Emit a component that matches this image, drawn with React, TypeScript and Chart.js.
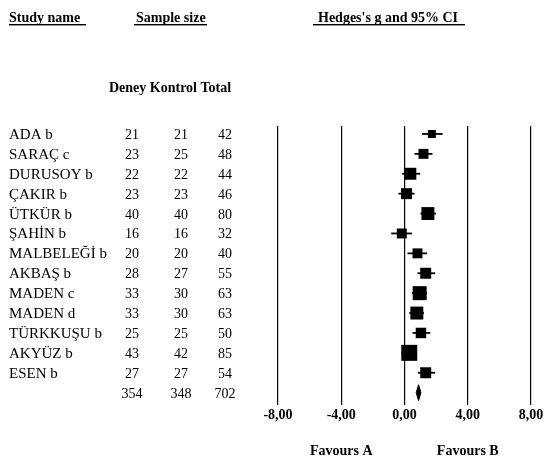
import { useEffect, useRef } from "react";
import { Chart, registerables } from "chart.js";

Chart.register(...registerables);

const studyNames = ["ADA b", "SARAÇ c", "DURUSOY b", "ÇAKIR b", "ÜTKÜR b", "ŞAHİN b", "MALBELEĞİ b", "AKBAŞ b", "MADEN c", "MADEN d", "TÜRKKUŞU b", "AKYÜZ b", "ESEN b"];
const deneyN = [21, 23, 22, 23, 40, 16, 20, 28, 33, 33, 25, 43, 27];
const kontrolN = [21, 25, 22, 23, 40, 16, 20, 27, 30, 30, 25, 42, 27];
const totalN = [42, 48, 44, 46, 80, 32, 40, 55, 63, 63, 50, 85, 54];
const sumTotals = [354, 348, 702];
const hedgesG = [1.73, 1.2, 0.37, 0.13, 1.48, -0.17, 0.82, 1.34, 0.96, 0.78, 1.04, 0.3, 1.34];
const lowerCI = [1.1, 0.63, -0.15, -0.38, 1.01, -0.84, 0.19, 0.82, 0.47, 0.3, 0.51, -0.19, 0.84];
const upperCI = [2.41, 1.77, 0.99, 0.63, 1.99, 0.47, 1.42, 1.94, 1.42, 1.23, 1.63, 0.78, 1.94];
const relWeights = [3.6, 5.6, 8.1, 6.8, 9.5, 5.6, 5.6, 6.8, 11.1, 9.5, 6.2, 14.5, 6.8];
const summaryG = [0.89];
const summaryCI = [0.74, 1.04];
const xTickValues = [-8, -4, 0, 4, 8];
const favourLabels = ["Favours A", "Favours B"];
const favourAt = [-4, 4];

const SERIF = '"Liberation Serif", "Times New Roman", serif';

const textPlugin = {
  id: "forestText",
  afterDraw(chart: any) {
    const { ctx } = chart;
    const ys = chart.scales.y;
    const xs = chart.scales.x;
    ctx.save();
    ctx.fillStyle = "#000";
    ctx.textBaseline = "alphabetic";
    ctx.font = `bold 14px ${SERIF}`;
    ctx.textAlign = "left";
    const header = (t: string, tx: number, u0: number, u1: number) => {
      ctx.fillText(t, tx, 22);
      ctx.fillRect(u0, 24, u1 - u0, 1.4);
    };
    header("Study name", 9, 9, 86);
    header("Sample size", 136, 134, 207);
    header("Hedges's g and 95% CI", 318, 313, 465);
    ctx.fillText("Deney Kontrol Total", 109, 92);

    const colX = [132, 181, 225];
    studyNames.forEach((name, i) => {
      const py = ys.getPixelForValue(i) + 5;
      ctx.font = `15px ${SERIF}`;
      ctx.textAlign = "left";
      ctx.fillText(name, 9, py);
      ctx.font = `14px ${SERIF}`;
      ctx.textAlign = "center";
      ctx.fillText(String(deneyN[i]), colX[0], py);
      ctx.fillText(String(kontrolN[i]), colX[1], py);
      ctx.fillText(String(totalN[i]), colX[2], py);
    });
    const ty = ys.getPixelForValue(studyNames.length) + 5;
    ctx.font = `14px ${SERIF}`;
    sumTotals.forEach((v, k) => {
      ctx.textAlign = "center";
      ctx.fillText(String(v), colX[k], ty);
    });

    ctx.font = `bold 14px ${SERIF}`;
    ctx.textAlign = "center";
    favourLabels.forEach((t, k) => {
      ctx.fillText(t, xs.getPixelForValue(favourAt[k]), 455);
    });
    ctx.restore();
  },
};

export default function App() {
  const ref = useRef<HTMLCanvasElement | null>(null);
  useEffect(() => {
    if (!ref.current) return;
    const n = studyNames.length;
    const ciSets = studyNames.map((_, i) => ({
      type: "scatter" as const,
      data: [
        { x: lowerCI[i], y: i },
        { x: upperCI[i], y: i },
      ],
      showLine: true,
      borderColor: "#000",
      borderWidth: 1.8,
      pointRadius: 0,
      order: 2,
    }));
    const k = 4.2;
    const squares = {
      type: "scatter" as const,
      data: hedgesG.map((g, i) => ({ x: g, y: i })),
      pointStyle: "rect",
      pointRadius: relWeights.map((w) => (Math.sqrt(w) * k) / Math.SQRT2),
      backgroundColor: "#000",
      borderWidth: 0,
      order: 0,
    };
    const diamond = {
      type: "scatter" as const,
      data: [
        { x: summaryCI[0], y: n },
        { x: summaryG[0], y: n - 0.4 },
        { x: summaryCI[1], y: n },
        { x: summaryG[0], y: n + 0.4 },
        { x: summaryCI[0], y: n },
      ],
      showLine: true,
      fill: "shape",
      backgroundColor: "#000",
      borderColor: "#000",
      borderWidth: 1,
      pointRadius: 0,
      order: 1,
    };
    const chart = new Chart(ref.current, {
      type: "scatter",
      data: { datasets: [...ciSets, squares, diamond] as any },
      options: {
        animation: false,
        responsive: true,
        maintainAspectRatio: false,
        events: [],
        layout: { padding: { left: 278, right: 13, top: 126, bottom: 26 } },
        plugins: { legend: { display: false }, tooltip: { enabled: false } },
        scales: {
          x: {
            type: "linear",
            min: -8,
            max: 8,
            afterBuildTicks: (s: any) => {
              s.ticks = xTickValues.map((v) => ({ value: v }));
            },
            afterFit: (s: any) => {
              s.paddingLeft = 0;
              s.paddingRight = 0;
              s.height = 30;
            },
            border: { display: false },
            grid: { color: "#000", lineWidth: 1.2, drawTicks: true, tickLength: 3, tickColor: "#000" },
            ticks: {
              color: "#000",
              padding: 2,
              maxRotation: 0,
              font: { family: SERIF, size: 14, weight: "bold" },
              callback: (v: any) => Number(v).toFixed(2).replace(".", ","),
            },
          },
          y: {
            type: "linear",
            min: -0.4,
            max: 13.47,
            reverse: true,
            display: false,
          },
        },
      },
      plugins: [textPlugin],
    });
    return () => chart.destroy();
  }, []);
  return (
    <div style={{ position: "absolute", left: 0, top: 0, width: 544, height: 458, background: "#fff" }}>
      <canvas ref={ref} />
    </div>
  );
}
